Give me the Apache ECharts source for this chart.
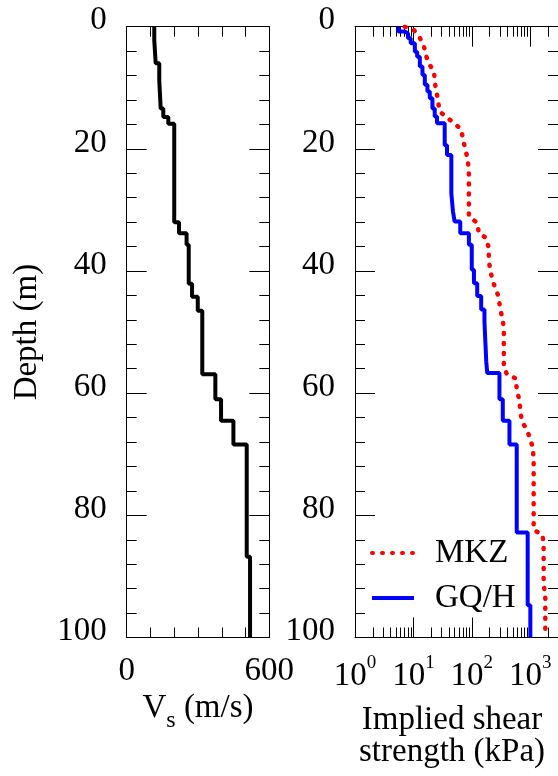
<!DOCTYPE html>
<html>
<head>
<meta charset="utf-8">
<script src="https://cdn.jsdelivr.net/npm/echarts@6/dist/echarts.min.js"></script>
<style>
html,body{margin:0;padding:0;background:#fff;}
#chart{width:558px;height:776px;}
</style>
</head>
<body>
<div id="chart"></div>
<script>
// ---- Data ----
// Vs profile: layer boundaries (m) and Vs per layer (m/s)
const vsBounds = [0, 2.2, 6, 8.8, 13.4, 14.8, 15.9, 32, 33.8, 35.7, 42.1, 44.2, 46.5, 56.9, 61, 64.5, 68.4, 86.8, 100];
const vsValues = [116, 122, 137, 143, 154, 175, 200, 220, 252, 261, 275, 299, 318, 373, 397, 449, 505, 519];

// GQ/H implied shear strength: layer boundaries (m) and strength (kPa)
const gqhBounds = [0, 0.8, 1.1, 1.9, 2.7, 4.1, 4.9, 6.5, 7.9, 9.5, 10.6, 11.7, 13.4, 14.7, 15.8, 19.4, 21.0, 27.3, 30.3, 31.9, 33.8, 35.7, 39.8, 42.0, 44.1, 46.3, 48.3, 54.8, 56.7, 61.0, 64.5, 68.4, 82.8, 94.7, 100];
const gqhValues = [5.5, 7.1, 8.1, 9.0, 10.6, 11.6, 12.9, 14.3, 15.7, 17.4, 19.1, 21.2, 23.2, 25.4, 34.4, 37.7, 44.7, 47.7, 50.9, 63.5, 89.3, 100, 109, 124, 145, 165, 177, 184, 298, 340, 442, 589, 907, 1008];

// MKZ implied shear strength: depth (m) and strength (kPa)
const mkzDepth = [0, 0.55, 1.6, 3.0, 4.6, 6.1, 7.3, 9.1, 10.8, 13.9, 15.0, 15.9, 16.8, 18.5, 20.1, 22.1, 23.7, 31.1, 32.1, 33.8, 34.6, 36.3, 38.2, 39.9, 41.7, 44.3, 46.3, 47.9, 49.7, 55.7, 57.0, 57.6, 59.5, 61.1, 63.0, 64.7, 66.0, 68.8, 70.9, 82.4, 83.2, 85.1, 91.1, 93.3, 100];
const mkzStrength = [7.1, 10.2, 12.5, 15.0, 16.3, 18.5, 22.6, 23.2, 25.1, 28.2, 39.2, 50.9, 66.2, 70.6, 78.4, 85.9, 89.3, 89.3, 124, 132, 177, 196, 196, 207, 230, 290, 306, 340, 354, 354, 404, 574, 589, 654, 681, 727, 885, 1104, 1149, 1149, 1636, 1703, 1703, 1818, 1818];

// Tick labels
const vsTickLabels = [0, 600];
const logDecades = [0, 1, 2, 3];
const logMinorTicks = [2, 3, 4, 5, 6, 7, 8, 9, 20, 30, 40, 50, 60, 70, 80, 90, 200, 300, 400, 500, 600, 700, 800, 900, 2000];

// ---- Build step paths from layer tables ----
function layered(bounds, values) {
  const pts = [];
  for (let i = 0; i < values.length; i++) {
    pts.push([values[i], bounds[i]]);
    pts.push([values[i], bounds[i + 1]]);
  }
  return pts;
}
const vsData = layered(vsBounds, vsValues);
const gqhData = layered(gqhBounds, gqhValues);
const mkzData = mkzDepth.map((d, i) => [mkzStrength[i], d]);

const FONT = 'Liberation Serif';

function yAx(grid, pos, labels) {
  return {
    type: 'value', gridIndex: grid, position: pos, min: 0, max: 100, interval: 20, inverse: true,
    axisLine: { show: true, onZero: false, lineStyle: { color: '#000', width: 1 } },
    axisTick: { show: true, inside: true, length: 20, lineStyle: { color: '#000', width: 1 } },
    minorTick: { show: true, splitNumber: 5, length: 10, lineStyle: { color: '#000', width: 1 } },
    splitLine: { show: false }, minorSplitLine: { show: false },
    axisLabel: labels ? { show: true, margin: 20, fontFamily: FONT, fontSize: 33, lineHeight: 12, verticalAlign: 'bottom', color: '#000' } : { show: false }
  };
}

const logLabelFmt = function (v) {
  const l = Math.log10(v);
  const e = Math.round(l);
  if (Math.abs(l - e) > 1e-6 || logDecades.indexOf(e) < 0) return '';
  return '{b|10}{e|' + e + '}';
};

const option = {
  animation: false,
  backgroundColor: '#fff',
  grid: [
    { left: 126.7, top: 26.7, width: 142.6, height: 610.8 },
    { left: 355, top: 26.7, width: 203.8, height: 610.8 }
  ],
  xAxis: [
    {
      type: 'value', gridIndex: 0, position: 'bottom', min: 0, max: 600, interval: 100,
      axisLine: { show: true, onZero: false, lineStyle: { color: '#000', width: 1 } },
      axisTick: { show: true, inside: true, length: 10, lineStyle: { color: '#000', width: 1 } },
      splitLine: { show: false },
      axisLabel: {
        show: true, margin: 17, fontFamily: FONT, fontSize: 33, color: '#000',
        showMinLabel: true, showMaxLabel: true,
        formatter: v => vsTickLabels.indexOf(v) >= 0 ? String(v) : ''
      },
      name: '{v|V}{s|s}{v| (m/s)}', nameLocation: 'middle', nameGap: 54, nameMoveOverlap: false,
      nameTextStyle: {
        fontFamily: FONT, color: '#000',
        rich: {
          v: { fontFamily: FONT, fontSize: 33, lineHeight: 33, verticalAlign: 'top', color: '#000' },
          s: { fontFamily: FONT, fontSize: 24, lineHeight: 24, verticalAlign: 'top', padding: [17, 0, 0, 0], color: '#000' }
        }
      }
    },
    {
      type: 'value', gridIndex: 0, position: 'top', min: 0, max: 600, interval: 100,
      axisLine: { show: true, onZero: false, lineStyle: { color: '#000', width: 1 } },
      axisTick: { show: true, inside: true, length: 10, lineStyle: { color: '#000', width: 1 } },
      splitLine: { show: false }, axisLabel: { show: false }
    },
    {
      type: 'log', logBase: 10, gridIndex: 1, position: 'bottom', min: 1, max: 3000,
      axisLine: { show: true, onZero: false, lineStyle: { color: '#000', width: 1 } },
      axisTick: { show: true, inside: true, length: 20, lineStyle: { color: '#000', width: 1 } },
      splitLine: { show: false },
      axisLabel: {
        show: true, margin: 16, color: '#000', showMaxLabel: false,
        formatter: logLabelFmt,
        rich: {
          b: { fontFamily: FONT, fontSize: 33, lineHeight: 33, verticalAlign: 'top', padding: [6, 0, 0, 0], color: '#000' },
          e: { fontFamily: FONT, fontSize: 19, lineHeight: 19, verticalAlign: 'top', color: '#000' }
        }
      },
      name: 'Implied shear\nstrength (kPa)', nameLocation: 'middle', nameGap: 67, nameMoveOverlap: false,
      nameTextStyle: { fontFamily: FONT, fontSize: 33, lineHeight: 32, color: '#000', padding: [0, 9, 0, 0] }
    },
    {
      type: 'log', logBase: 10, gridIndex: 1, position: 'top', min: 1, max: 3000,
      axisLine: { show: true, onZero: false, lineStyle: { color: '#000', width: 1 } },
      axisTick: { show: true, inside: true, length: 20, lineStyle: { color: '#000', width: 1 } },
      splitLine: { show: false }, axisLabel: { show: false }
    }
  ],
  yAxis: [
    Object.assign(yAx(0, 'left', true), {
      name: 'Depth (m)', nameLocation: 'middle', nameGap: 83, nameRotate: 90, nameMoveOverlap: false,
      nameTextStyle: { fontFamily: FONT, fontSize: 33, lineHeight: 33, color: '#000' }
    }),
    yAx(0, 'right', false),
    yAx(1, 'left', true),
    yAx(1, 'right', false)
  ],
  legend: {
    orient: 'vertical', left: 370, top: 536.5, padding: 0, itemGap: 12,
    itemWidth: 42, itemHeight: 14,
    data: ['MKZ', 'GQ/H'],
    lineStyle: { width: 4 },
    itemStyle: { opacity: 0 },
    textStyle: { fontFamily: FONT, fontSize: 33, lineHeight: 33, color: '#000', padding: [0, 0, 0, 16] }
  },
  series: [
    {
      name: 'Vs', type: 'line', xAxisIndex: 0, yAxisIndex: 0, data: vsData,
      symbol: 'none', lineStyle: { color: '#000', width: 4 }, itemStyle: { color: '#000' }
    },
    {
      name: 'GQ/H', type: 'line', xAxisIndex: 2, yAxisIndex: 2, data: gqhData,
      symbol: 'none', lineStyle: { color: '#0000ff', width: 4 }, itemStyle: { color: '#0000ff' }
    },
    {
      name: 'MKZ', type: 'line', xAxisIndex: 2, yAxisIndex: 2, data: mkzData,
      symbol: 'none', lineStyle: { color: '#ff0000', width: 4.5, type: [1, 9], cap: 'round' }, itemStyle: { color: '#ff0000' }
    },
    {
      type: 'custom', xAxisIndex: 2, yAxisIndex: 2, silent: true, clip: false,
      data: logMinorTicks.map(v => [v, 0]),
      renderItem: function (params, api) {
        const v = api.value(0);
        const pt = api.coord([v, 0]);
        const pb = api.coord([v, 100]);
        return {
          type: 'group', children: [
            { type: 'line', shape: { x1: Math.round(pt[0]) + 0.5, y1: pt[1], x2: Math.round(pt[0]) + 0.5, y2: pt[1] + 10 }, style: { stroke: '#000', lineWidth: 1 } },
            { type: 'line', shape: { x1: Math.round(pb[0]) + 0.5, y1: pb[1], x2: Math.round(pb[0]) + 0.5, y2: pb[1] - 10 }, style: { stroke: '#000', lineWidth: 1 } }
          ]
        };
      }
    }
  ]
};

const chart = echarts.init(document.getElementById('chart'), null, { renderer: 'canvas' });
chart.setOption(option);
</script>
</body>
</html>
